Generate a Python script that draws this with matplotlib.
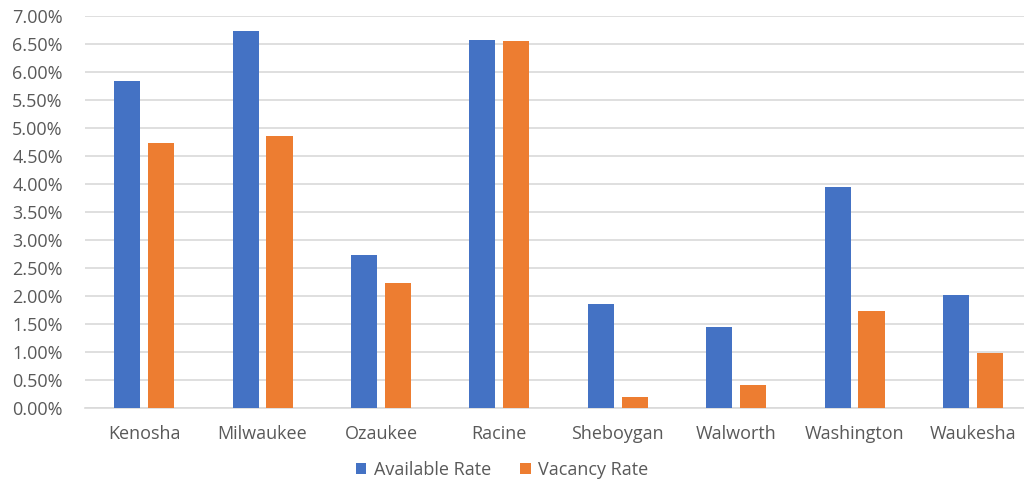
import numpy as np
import matplotlib.pyplot as plt
from matplotlib.ticker import PercentFormatter

counties = ['Kenosha', 'Milwaukee', 'Ozaukee', 'Racine', 'Sheboygan', 'Walworth', 'Washington', 'Waukesha']
available_rate = [5.83, 6.73, 2.73, 6.57, 1.85, 1.44, 3.95, 2.01]
vacancy_rate = [4.73, 4.86, 2.23, 6.55, 0.19, 0.41, 1.73, 0.98]

blue = '#4472c4'
orange = '#ed7d31'
grey_text = '#595959'

plt.rcParams['font.family'] = ['Open Sans', 'DejaVu Sans']

fig = plt.figure(figsize=(10.24, 4.82), dpi=100)
ax = fig.add_axes([0.083, 0.1535, 0.925, 0.8135])

x = np.arange(len(counties))
w = 0.22
ax.bar(x - 0.143, available_rate, w, color=blue, label='Available Rate', zorder=3)
ax.bar(x + 0.143, vacancy_rate, w, color=orange, label='Vacancy Rate', zorder=3)

ax.set_xlim(-0.5, len(counties) - 0.5)
ax.set_ylim(0, 7)
ax.set_yticks(np.arange(0, 7.01, 0.5))
ax.yaxis.set_major_formatter(PercentFormatter(decimals=2))
ax.set_xticks(x)
ax.set_xticklabels(counties)

ax.grid(axis='y', color='#d9d9d9', linewidth=1.2, zorder=0)
for s in ['top', 'right', 'left']:
    ax.spines[s].set_visible(False)
ax.spines['bottom'].set_color('#d9d9d9')
ax.spines['bottom'].set_linewidth(1.2)
ax.tick_params(axis='y', length=0, pad=16, labelsize=13, labelcolor=grey_text)
ax.tick_params(axis='x', length=0, pad=12, labelsize=13, labelcolor=grey_text)

fig.legend(loc='center', bbox_to_anchor=(0.49, 0.025), ncol=2, frameon=False,
           fontsize=13, labelcolor=grey_text, handlelength=0.6, handleheight=0.6,
           handletextpad=0.4, columnspacing=1.6)

fig.savefig('out.png', dpi=100)
